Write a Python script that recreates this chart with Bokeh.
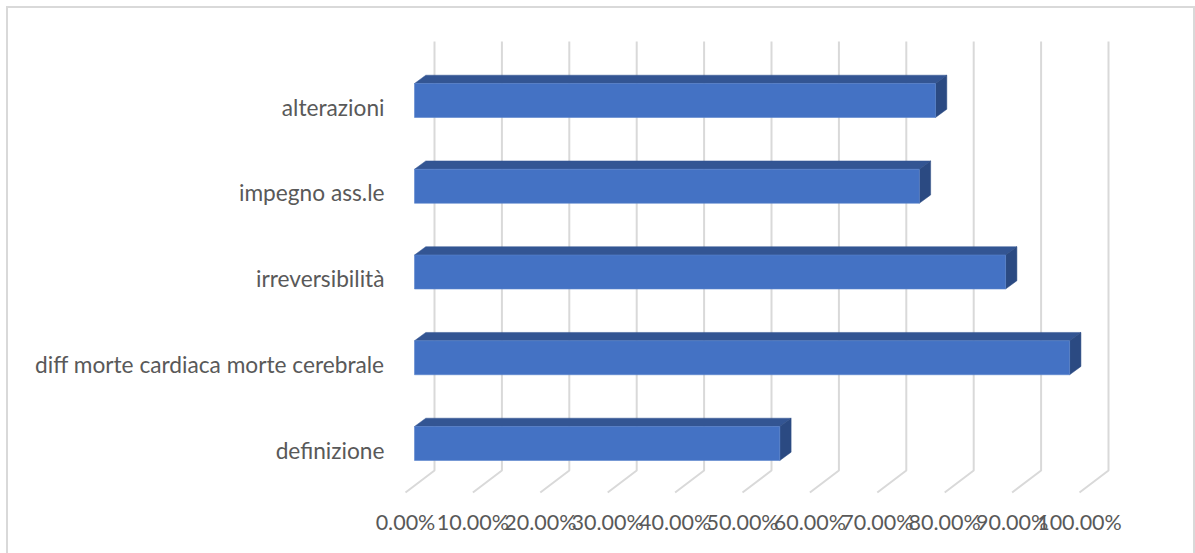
from bokeh.embed import file_html
from bokeh.models import (ColumnDataSource, FixedTicker, InlineStyleSheet, LinearAxis,
                          NumeralTickFormatter, Range1d)
from bokeh.plotting import figure
from bokeh.resources import INLINE

# Survey results, bottom row first
categories = ["definizione", "diff morte cardiaca morte cerebrale", "irreversibilità",
              "impegno ass.le", "alterazioni"]
shares = [0.542, 0.972, 0.877, 0.749, 0.773]
x_ticks = [0.0, 0.1, 0.2, 0.3, 0.4, 0.5, 0.6, 0.7, 0.8, 0.9, 1.0]

WIDTH, HEIGHT = 1195, 553
LEFT, RIGHT, TOP, BOTTOM = 395, 25, 30, 50
PX_PER_X = 674.0          # pixels for the whole 0-100% span
PX_PER_ROW = 85.75        # pixels between two rows
ROW0_PX = 443.0           # vertical pixel of the first bar's centre
LABEL_SHIFT_PX = 6.5      # category labels sit a little below the bar centre

def dx(px):
    return px / PX_PER_X

def dy(px):
    return px / PX_PER_ROW

frame_bottom = HEIGHT - BOTTOM
x_start = -10 / PX_PER_X
x_end = x_start + (WIDTH - LEFT - RIGHT) / PX_PER_X
y_start = (ROW0_PX - frame_bottom) / PX_PER_ROW
y_end = (ROW0_PX - TOP) / PX_PER_ROW

# Chart area border, open at the bottom where the page ends
frame_css = InlineStyleSheet(css=""":host::after {
  content: ""; position: absolute; left: 6px; top: 6px; width: 1185px; height: 545px;
  box-sizing: content-box; border-style: solid; border-color: #d9d9d9;
  border-width: 2px 2px 0 2px; pointer-events: none;
}""")

p = figure(width=WIDTH, height=HEIGHT, output_backend="svg", toolbar_location=None,
           x_range=Range1d(x_start, x_end), y_range=Range1d(y_start, y_end),
           min_border_left=LEFT, min_border_right=RIGHT, min_border_top=TOP,
           min_border_bottom=BOTTOM, x_axis_location=None, y_axis_location=None,
           outline_line_color=None, background_fill_color="white",
           border_fill_color="white", stylesheets=[frame_css])
p.grid.visible = False

# Walls of the 3D box: each grid line rises at the back and runs forward on the floor
wall_top = (ROW0_PX - 41) / PX_PER_ROW
wall_bottom = (ROW0_PX - 470) / PX_PER_ROW
floor_front = (ROW0_PX - 492) / PX_PER_ROW
back = dx(29)
p.multi_line(xs=[[t + back, t + back, t] for t in x_ticks],
             ys=[[wall_top, wall_bottom, floor_front] for _ in x_ticks],
             line_color="#d9d9d9", line_width=2)

# Bars: front face plus the top and side faces of the extrusion
inset = dx(9)
half = dy(17)
ox, oy = dx(11.3), dy(8.3)
rows = list(range(len(categories)))
lefts = [inset] * len(shares)
rights = [v + inset for v in shares]

top_xs = [[l, l + ox, r + ox, r] for l, r in zip(lefts, rights)]
top_ys = [[i + half, i + half + oy, i + half + oy, i + half] for i in rows]
side_xs = [[r, r + ox, r + ox, r] for r in rights]
side_ys = [[i - half, i - half + oy, i + half + oy, i + half] for i in rows]

p.patches(top_xs, top_ys, fill_color="#335593", line_color="#335593", line_width=0.5)
p.patches(side_xs, side_ys, fill_color="#2b4a82", line_color="#2b4a82", line_width=0.5)
p.hbar(y="row", left="left", right="right", height=2 * half,
       source=ColumnDataSource(dict(row=rows, left=lefts, right=rights)),
       fill_color="#4472c4", line_color="#5b84cc", line_width=0.6)

# Value axis along the front edge of the floor
x_axis = LinearAxis(ticker=FixedTicker(ticks=x_ticks),
                    formatter=NumeralTickFormatter(format="0.00%"))
# Category axis on its own range so the names can sit slightly lower than the bars
shift = LABEL_SHIFT_PX / PX_PER_ROW
p.extra_y_ranges = {"names": Range1d(y_start + shift, y_end + shift)}
y_axis = LinearAxis(y_range_name="names", ticker=FixedTicker(ticks=rows),
                    major_label_overrides={i: c for i, c in enumerate(categories)})
for axis in (x_axis, y_axis):
    axis.axis_line_color = None
    axis.major_tick_line_color = None
    axis.minor_tick_line_color = None
    axis.major_label_text_color = "#595959"
    axis.major_label_text_font = "Lato"
    axis.major_tick_in = 0
    axis.major_tick_out = 0
x_axis.major_label_text_font_size = "21.5px"
y_axis.major_label_text_font_size = "22.7px"
x_axis.major_label_standoff = 5
y_axis.major_label_standoff = 11
p.add_layout(x_axis, "below")
p.add_layout(y_axis, "left")

open("out.html", "w").write(file_html(p, INLINE))
